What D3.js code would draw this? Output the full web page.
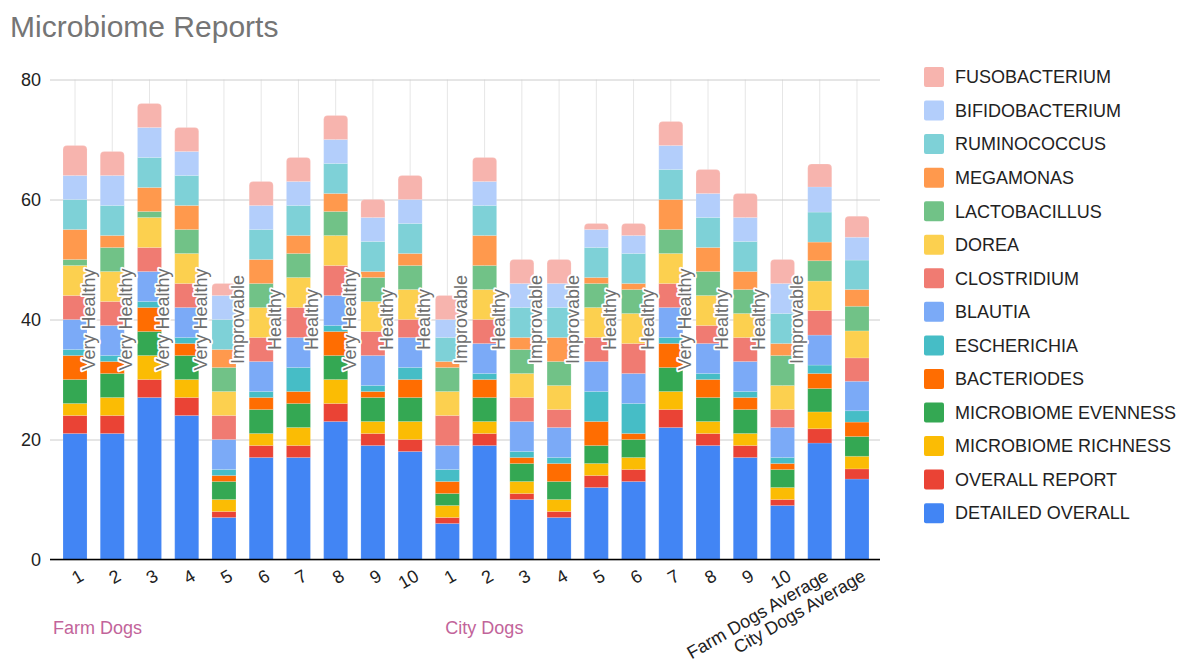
<!DOCTYPE html>
<html>
<head>
<meta charset="utf-8">
<script src="https://cdn.jsdelivr.net/npm/d3@7"></script>
<style>
  html, body { margin: 0; padding: 0; background: #fff; }
  svg { display: block; font-family: "Liberation Sans", Arial, sans-serif; }
</style>
</head>
<body>
<svg id="chart" width="1181" height="662"></svg>
<script>
// Bar categories: ten farm dogs, ten city dogs, then the two group averages
const categories = ["1","2","3","4","5","6","7","8","9","10",
                    "1","2","3","4","5","6","7","8","9","10",
                    "Farm Dogs Average","City Dogs Average"];
const groups = [{ name: "Farm Dogs", first: 0 }, { name: "City Dogs", first: 10 }];

// Stacked scores per dog, bottom to top
const detailedOverall = [21,21,27,24,7,17,17,23,19,18, 6,19,10,7,12,13,22,19,17,9, 19.4,13.4];
const overallReport   = [3,3,3,3,1,2,2,3,2,2, 1,2,1,1,2,2,3,2,2,1, 2.4,1.7];
const richness        = [2,3,4,3,2,2,3,4,2,3, 2,2,2,2,2,2,3,2,2,2, 2.8,2.1];
const evenness        = [4,4,4,4,3,4,4,4,4,4, 2,4,3,3,3,3,4,4,4,3, 3.9,3.3];
const bacteriodes     = [4,2,4,2,1,2,2,4,1,3, 2,3,1,3,4,1,4,3,2,1, 2.5,2.4];
const escherichia     = [1,1,1,1,1,1,4,1,1,2, 2,1,1,1,5,5,1,1,1,1, 1.4,1.9];
const blautia         = [5,5,5,5,5,5,5,5,5,5, 4,5,5,5,5,5,5,5,5,5, 5,4.9];
const clostridium     = [4,4,4,4,4,4,5,5,4,3, 5,4,4,3,4,5,4,3,4,3, 4.1,3.9];
const dorea           = [5,5,5,5,4,5,5,5,5,5, 4,5,4,4,5,5,5,5,4,4, 4.9,4.5];
const lactobacillus   = [1,4,1,4,4,4,4,4,4,4, 4,4,4,4,4,4,4,4,4,5, 3.4,4.1];
const megamonas       = [5,2,4,4,3,4,3,3,1,2, 1,5,2,4,1,1,5,4,3,2, 3.1,2.8];
const ruminococcus    = [5,5,5,5,5,5,5,5,5,5, 4,5,5,5,5,5,5,5,5,5, 5,4.9];
const bifidobacterium = [4,5,5,4,4,4,4,4,4,4, 3,4,4,4,3,3,4,4,4,5, 4.2,3.8];
const fusobacterium   = [5,4,4,4,2,4,4,4,3,4, 4,4,4,4,1,2,4,4,4,4, 3.8,3.5];

// Health verdict written beside each dog's bar
const statuses = ["Very Healthy","Very Healthy","Very Healthy","Very Healthy","Improvable",
                  "Healthy","Healthy","Very Healthy","Healthy","Healthy",
                  "Improvable","Healthy","Improvable","Improvable","Healthy",
                  "Healthy","Very Healthy","Healthy","Healthy","Improvable","",""];
const statusLevel = 40;

const yTicks = [0, 20, 40, 60, 80];

const seriesNames = ["DETAILED OVERALL","OVERALL REPORT","MICROBIOME RICHNESS","MICROBIOME EVENNESS",
  "BACTERIODES","ESCHERICHIA","BLAUTIA","CLOSTRIDIUM","DOREA","LACTOBACILLUS",
  "MEGAMONAS","RUMINOCOCCUS","BIFIDOBACTERIUM","FUSOBACTERIUM"];
const seriesValues = [detailedOverall, overallReport, richness, evenness, bacteriodes, escherichia,
  blautia, clostridium, dorea, lactobacillus, megamonas, ruminococcus, bifidobacterium, fusobacterium];
const seriesColors = ["#4285F4","#EA4335","#FBBC04","#34A853","#FF6D01","#46BDC6",
  "#7BAAF7","#F07B72","#FCD04F","#71C287","#FF994D","#7ED1D7","#B3CEFB","#F7B4AE"];

// Row table for d3.stack
const rows = categories.map((c, i) => {
  const r = { idx: i };
  seriesNames.forEach((s, k) => { r[s] = seriesValues[k][i]; });
  return r;
});

const svg = d3.select("#chart");
const plot = { left: 50, right: 880, top: 79.5, bottom: 559.5 };

const x = d3.scaleBand()
  .domain(d3.range(categories.length))
  .range([56.4, 875.6])
  .paddingInner(0.355)
  .paddingOuter(0.1775);
const y = d3.scaleLinear().domain([0, 80]).range([plot.bottom, plot.top]);
const color = d3.scaleOrdinal().domain(seriesNames).range(seriesColors);

// Title
svg.append("text")
  .attr("x", 10).attr("y", 37)
  .attr("font-size", 30).attr("fill", "#757575")
  .text("Microbiome Reports");

// Vertical gridlines at each bar
svg.append("g").selectAll("line")
  .data(d3.range(categories.length))
  .join("line")
  .attr("x1", d => x(d) + x.bandwidth() / 2).attr("x2", d => x(d) + x.bandwidth() / 2)
  .attr("y1", y(80)).attr("y2", y(0))
  .attr("stroke", "#e6e6e6").attr("stroke-width", 1);

// Y axis with horizontal gridlines
const yAxis = svg.append("g")
  .attr("transform", `translate(${plot.left},0)`)
  .call(d3.axisLeft(y).tickValues(yTicks).tickSize(-(plot.right - plot.left)).tickPadding(9));
yAxis.select(".domain").remove();
yAxis.selectAll(".tick line").attr("stroke", "#cccccc");
yAxis.selectAll(".tick text").attr("font-size", 18).attr("fill", "#222")
  .attr("font-family", "Liberation Sans, Arial, sans-serif");

// Stacked bars
const stacked = d3.stack().keys(seriesNames)(rows);
const topKey = seriesNames[seriesNames.length - 1];
const radius = 4;

function roundedTop(x0, y0, w, h, r) {
  r = Math.min(r, h, w / 2);
  return `M${x0},${y0 + h}V${y0 + r}Q${x0},${y0} ${x0 + r},${y0}H${x0 + w - r}Q${x0 + w},${y0} ${x0 + w},${y0 + r}V${y0 + h}Z`;
}

const layers = svg.append("g").selectAll("g")
  .data(stacked)
  .join("g")
  .attr("fill", d => color(d.key));

layers.each(function(layer) {
  const g = d3.select(this);
  g.selectAll("path")
    .data(layer)
    .join("path")
    .attr("d", d => {
      const x0 = x(d.data.idx), w = x.bandwidth();
      const yTop = y(d[1]), h = y(d[0]) - y(d[1]);
      if (layer.key === topKey) return roundedTop(x0, yTop, w, h, radius);
      return `M${x0},${yTop}h${w}v${h}h${-w}Z`;
    })
    .attr("stroke", "#ffffff").attr("stroke-opacity", 0.25).attr("stroke-width", 0.6);
});

// Baseline
svg.append("line")
  .attr("x1", plot.left).attr("x2", plot.right)
  .attr("y1", y(0)).attr("y2", y(0))
  .attr("stroke", "#000").attr("stroke-width", 1.3);

// Health verdict labels
svg.append("g").selectAll("text")
  .data(statuses.map((s, i) => ({ s, i })).filter(d => d.s))
  .join("text")
  .attr("transform", d => `translate(${x(d.i) + x.bandwidth() / 2 + 20},${y(statusLevel)}) rotate(-90)`)
  .attr("text-anchor", "middle")
  .attr("font-size", 18)
  .attr("fill", "#6e6e6e")
  .attr("stroke", "#ffffff").attr("stroke-width", 3.5)
  .attr("stroke-linejoin", "round")
  .attr("paint-order", "stroke")
  .text(d => d.s);

// X tick labels, slanted
svg.append("g").selectAll("text")
  .data(categories.map((c, i) => ({ c, i })))
  .join("text")
  .attr("transform", d => `translate(${x(d.i) + x.bandwidth() / 2 + 10},${y(0) + 20}) rotate(-30)`)
  .attr("text-anchor", "end")
  .attr("font-size", 18)
  .attr("fill", "#222")
  .text(d => d.c);

// Group labels under the ticks
svg.append("g").selectAll("text")
  .data(groups)
  .join("text")
  .attr("x", d => x(d.first) + (d.first === 0 ? -10 : 10))
  .attr("y", 634)
  .attr("font-size", 18)
  .attr("fill", "#C2649A")
  .text(d => d.name);

// Legend, top series first
const legendItems = seriesNames.slice().reverse();
const legend = svg.append("g").selectAll("g")
  .data(legendItems)
  .join("g")
  .attr("transform", (d, i) => `translate(924,${77 + i * 33.55})`);
legend.append("rect")
  .attr("x", 0).attr("y", -10).attr("width", 20).attr("height", 20).attr("rx", 2)
  .attr("fill", d => color(d));
legend.append("text")
  .attr("x", 31).attr("y", 0).attr("dy", "0.35em")
  .attr("font-size", 18).attr("fill", "#222")
  .text(d => d);
</script>
</body>
</html>
